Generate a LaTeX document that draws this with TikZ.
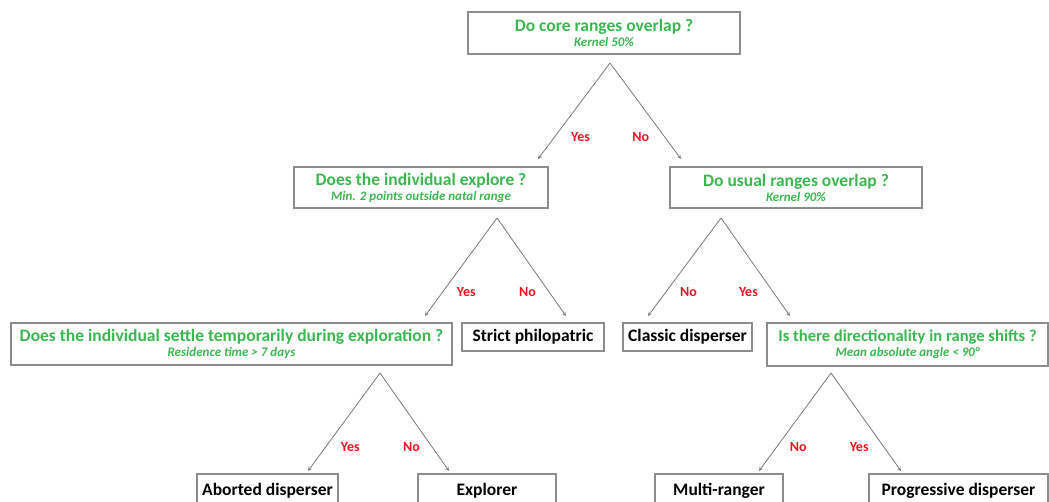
\documentclass[tikz,border=0pt]{standalone}
\usepackage{fontspec}
\setmainfont{Carlito}
\definecolor{qgreen}{RGB}{60,182,80}
\definecolor{ansred}{RGB}{240,20,30}
\definecolor{boxgray}{RGB}{140,140,140}
\definecolor{arrowgray}{RGB}{120,120,120}
\newcommand{\critnote}[1]{{\fontsize{13}{15}\selectfont\itshape #1}}

\begin{document}
\begin{tikzpicture}[x=1pt, y=-1pt, >=stealth,
    question/.style={draw=boxgray, line width=1.1pt, align=center, text=qgreen, inner sep=0pt, font=\fontsize{17.5}{15}\selectfont\bfseries},
    outcome/.style={draw=boxgray, line width=1.1pt, inner sep=0pt, minimum height=28pt, font=\fontsize{17.5}{18}\selectfont\bfseries},
    branch/.style={->, draw=arrowgray, line width=0.8pt},
    ans/.style={text=ansred, inner sep=0pt, font=\fontsize{14}{16}\selectfont\bfseries}]
    \useasboundingbox (0,0) rectangle (1049,502);
    \clip (0,0) rectangle (1049,502);

    \node[question, minimum width=272pt, minimum height=42pt] (core) at (604,33) {Do core ranges overlap ?\\\critnote{Kernel 50\%}};
    \node[question, minimum width=254pt, minimum height=41pt] (explore) at (421,187.5) {Does the individual explore ?\\\critnote{Min. 2 points outside natal range}};
    \node[question, minimum width=252pt, minimum height=41pt] (usual) at (796,187.5) {Do usual ranges overlap ?\\\critnote{Kernel 90\%}};
    \node[question, minimum width=441pt, minimum height=42pt] (settle) at (231.5,344) {Does the individual settle temporarily during exploration ?\\\critnote{Residence time > 7 days}};
    \node[outcome, minimum width=142pt] (philo) at (533,337) {Strict philopatric};
    \node[outcome, minimum width=129pt] (classic) at (687.5,337) {Classic disperser};
    \node[question, minimum width=281pt, minimum height=43pt, font=\fontsize{16.6}{15}\selectfont\bfseries] (direction) at (907.5,344.5) {Is there directionality in range shifts ?\\\critnote{Mean absolute angle < 90°}};
    \node[outcome, minimum width=141pt, minimum height=34pt] (aborted) at (267.5,491) {Aborted disperser};
    \node[outcome, minimum width=138pt, minimum height=34pt] (explorer) at (487,491) {Explorer};
    \node[outcome, minimum width=128pt, minimum height=34pt] (multi) at (719,491) {Multi-ranger};
    \node[outcome, minimum width=179pt, minimum height=34pt] (progressive) at (958.5,491) {Progressive disperser};

    \coordinate (core-fork) at (610,63);
    \coordinate (explore-fork) at (497,218);
    \coordinate (usual-fork) at (721,218);
    \coordinate (settle-fork) at (380,373);
    \coordinate (direction-fork) at (831,373);
    \coordinate (explore-in) at (538,159);
    \coordinate (usual-in) at (681,159);
    \coordinate (settle-in) at (425,316);
    \coordinate (philo-in) at (566,316);
    \coordinate (classic-in) at (648,316);
    \coordinate (direction-in) at (790,316);
    \coordinate (aborted-in) at (308,471);
    \coordinate (explorer-in) at (449,471);
    \coordinate (multi-in) at (759,471);
    \coordinate (progressive-in) at (901,471);

    \draw[branch] (core-fork) -- node[ans, pos=0.77, xshift=26pt] {Yes} (explore-in);
    \draw[branch] (core-fork) -- node[ans, pos=0.77, xshift=-24pt] {No} (usual-in);
    \draw[branch] (explore-fork) -- node[ans, pos=0.76, xshift=24pt] {Yes} (settle-in);
    \draw[branch] (explore-fork) -- node[ans, pos=0.76, xshift=-22pt] {No} (philo-in);
    \draw[branch] (usual-fork) -- node[ans, pos=0.76, xshift=23pt] {No} (classic-in);
    \draw[branch] (usual-fork) -- node[ans, pos=0.76, xshift=-25pt] {Yes} (direction-in);
    \draw[branch] (settle-fork) -- node[ans, pos=0.76, xshift=25pt] {Yes} (aborted-in);
    \draw[branch] (settle-fork) -- node[ans, pos=0.76, xshift=-21pt] {No} (explorer-in);
    \draw[branch] (direction-fork) -- node[ans, pos=0.76, xshift=22pt] {No} (multi-in);
    \draw[branch] (direction-fork) -- node[ans, pos=0.76, xshift=-25pt] {Yes} (progressive-in);
\end{tikzpicture}
\end{document}
